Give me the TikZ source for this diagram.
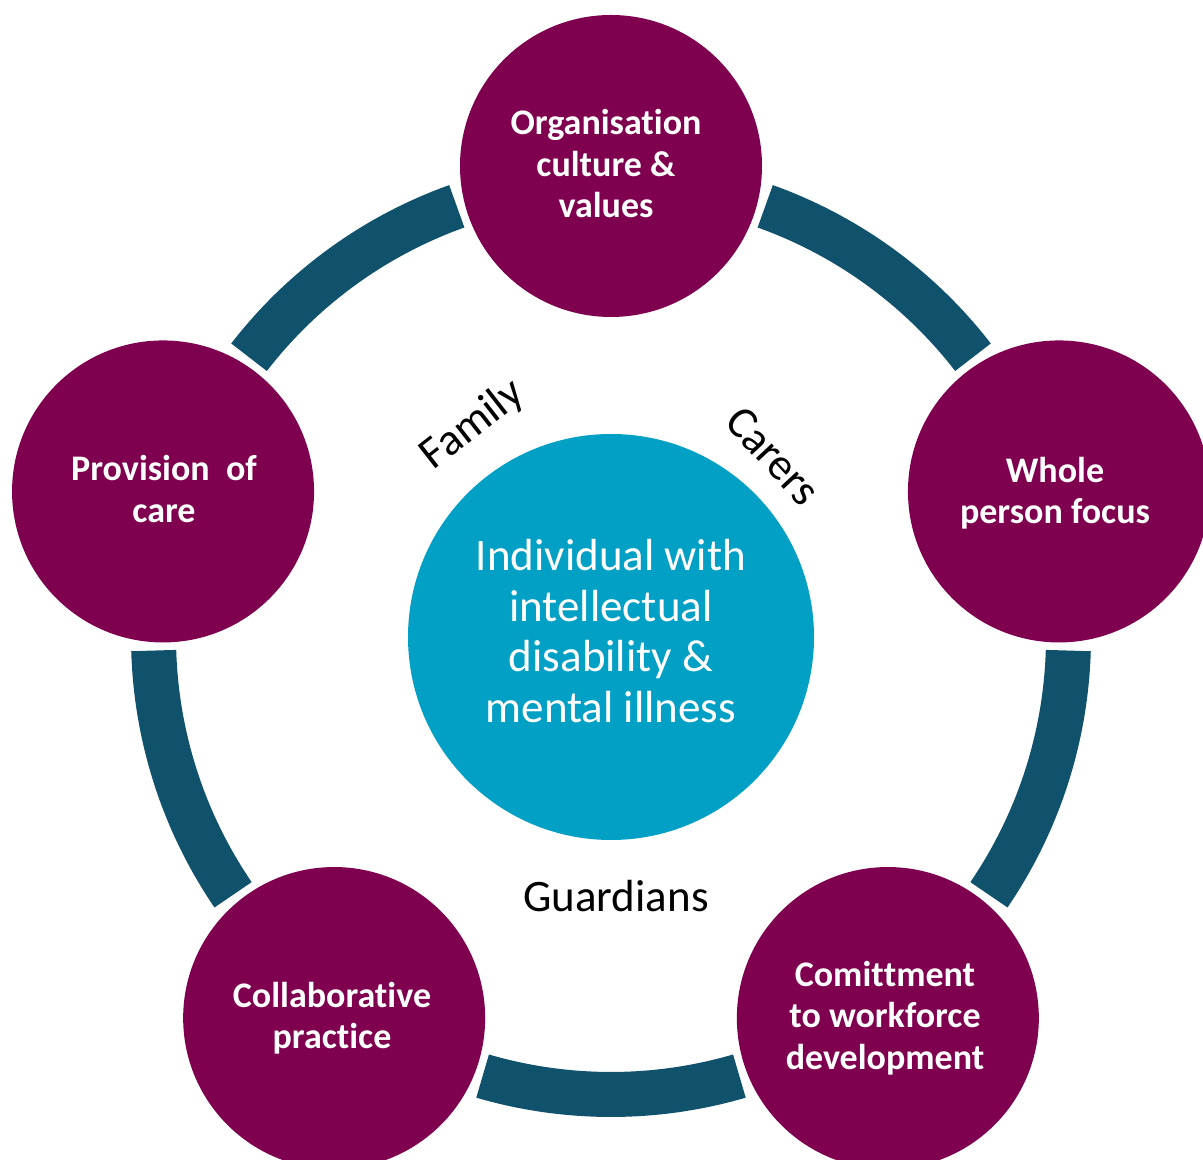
\documentclass[tikz,border=0pt]{standalone}
\usepackage{fontspec}
\setmainfont{Carlito}[Ligatures={NoCommon},RawFeature={-liga;-clig;-dlig}]
\usetikzlibrary{calc}
\definecolor{plum}{RGB}{127,0,78}
\definecolor{ringteal}{RGB}{16,81,108}
\definecolor{hubcyan}{RGB}{2,160,196}
\newcommand{\nolig}{\kern0pt }
\begin{document}
\begin{tikzpicture}[x=1pt,y=1pt,
  pillar/.style={circle,fill=plum,minimum size=302pt,inner sep=0pt},
  pillartext/.style={text=white,align=center,font=\fontsize{36}{41.5}\selectfont\bfseries},
  hub/.style={circle,fill=hubcyan,minimum size=406pt,inner sep=0pt},
  hubtext/.style={text=white,align=center,font=\fontsize{45}{50.5}\selectfont},
  role/.style={text=black,font=\fontsize{45}{50}\selectfont,inner sep=0pt},
  ringseg/.style={fill=ringteal}]
\useasboundingbox (0,0) rectangle (1203,1160);
\clip (0,0) rectangle (1203,1160);
\coordinate (c) at (611,523);
% ring segments
\foreach \a in {18,90,162,234,306}{
  \pgfmathsetmacro{\sa}{\a+19.7}
  \pgfmathsetmacro{\ea}{\a+52.3}
  \fill[ringseg] ($(c)+(\sa:480)$) arc[start angle=\sa,end angle=\ea,radius=480]
     -- ($(c)+(\ea:435)$) arc[start angle=\ea,end angle=\sa,radius=435] -- cycle;
}
% pillars
\node[pillar] (top) at ($(c)+(90:471)$) {};
\node[pillar] (right) at ($(c)+(18:471)$) {};
\node[pillar] (bright) at ($(c)+(-54:471)$) {};
\node[pillar] (bleft) at ($(c)+(-126:471)$) {};
\node[pillar] (left) at ($(c)+(162:471)$) {};
\node[pillartext] (toptxt) at (606,996) {Organisat\nolig ion\\culture \&\\values};
\node[pillartext] (righttxt) at (1055,667) {Whole\\person focus};
\node[pillartext] (lefttxt) at (164,671) {Provision~~of\\care};
\node[pillartext] (blefttxt) at (332,142) {Collaborat\nolig ive\\practice};
\node[pillartext] (brighttxt) at (885,142) {Comit\nolig t\nolig ment\\to workforce\\development};
% hub
\node[hub] (hub) at (c) {};
\node[hubtext] (hubtxt) at (611,529) {Individual with\\intellectual\\disability \&\\mental illness};
% roles
\node[role,rotate=38] (family) at (473,735) {Family};
\node[role,rotate=-47] (carers) at (773,704) {Carers};
\node[role,anchor=base] (guardians) at (616,248) {Guardians};
\end{tikzpicture}
\end{document}
